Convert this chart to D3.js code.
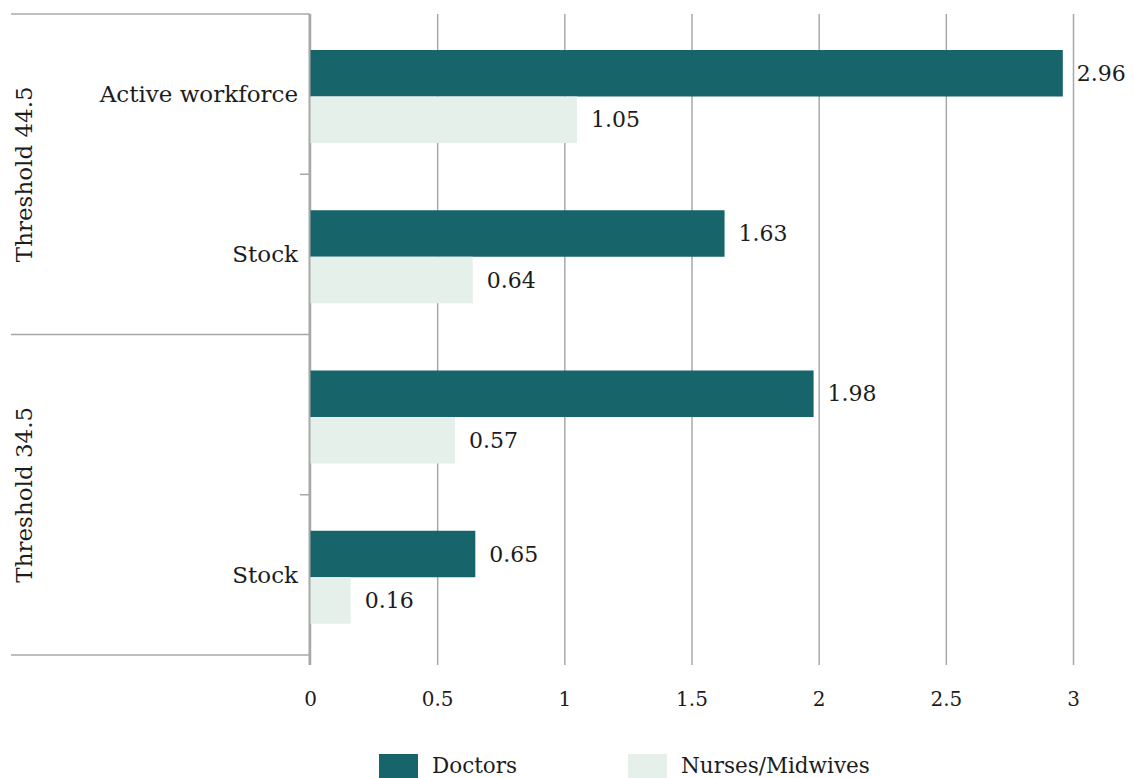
<!DOCTYPE html>
<html>
<head>
<meta charset="utf-8">
<script src="https://cdn.jsdelivr.net/npm/d3@7"></script>
<style>
  html, body { margin: 0; padding: 0; background: #fff; }
  svg { display: block; font-family: "DejaVu Serif", serif; }
</style>
</head>
<body>
<svg id="chart" width="1134" height="778"></svg>
<script>
// Workforce ratios by threshold and measure
const rowIds = ["t44-active", "t44-stock", "t34-active", "t34-stock"];
const rowLabels = ["Active workforce", "Stock", "", "Stock"];
const rowGroups = ["Threshold 44.5", "Threshold 44.5", "Threshold 34.5", "Threshold 34.5"];
const groupNames = ["Threshold 44.5", "Threshold 34.5"];
const seriesNames = ["Doctors", "Nurses/Midwives"];
const doctors = [2.96, 1.63, 1.98, 0.65];
const nurses = [1.05, 0.64, 0.57, 0.16];
const xTicks = [0, 0.5, 1, 1.5, 2, 2.5, 3];
const xTickLabels = ["0", "0.5", "1", "1.5", "2", "2.5", "3"];

const colors = { "Doctors": "#17646a", "Nurses/Midwives": "#e6f0eb" };
const gridColor = "#a8a8a8";
const textColor = "#1c1c1c";

const svg = d3.select("#chart");

const rows = rowIds.map((id, i) => ({
  id, label: rowLabels[i], group: rowGroups[i],
  values: [doctors[i], nurses[i]]
}));

const plotTop = 14, plotBottom = 655, plotLeft = 310, plotRight = 1073, outerLeft = 11;

const x = d3.scaleLinear().domain([0, 3]).range([plotLeft, plotRight]);
const y = d3.scaleBand().domain(rowIds).range([plotTop, plotBottom]);
// bars sit in the upper part of each row band
const ySeries = d3.scaleBand().domain(seriesNames).range([36, 129]);

// vertical grid lines + ticks below the axis
const xAxis = d3.axisBottom(x)
  .tickValues(xTicks)
  .tickFormat((d, i) => xTickLabels[i])
  .tickSize(plotBottom - plotTop + 10)
  .tickSizeOuter(0);

const gx = svg.append("g")
  .attr("transform", `translate(0,${plotTop})`)
  .call(xAxis);
gx.select(".domain").remove();
gx.selectAll(".tick line").attr("stroke", gridColor).attr("stroke-width", 1.5);
gx.selectAll(".tick text")
  .attr("fill", textColor)
  .attr("font-size", 20)
  .attr("font-family", "DejaVu Serif, serif")
  .attr("y", plotBottom - plotTop + 37);

// bars
const rowG = svg.append("g").selectAll("g")
  .data(rows)
  .join("g")
  .attr("transform", d => `translate(0,${y(d.id)})`);

rowG.selectAll("rect")
  .data(d => d.values.map((v, k) => ({ series: seriesNames[k], value: v })))
  .join("rect")
  .attr("x", x(0))
  .attr("y", d => ySeries(d.series))
  .attr("width", d => x(d.value) - x(0))
  .attr("height", ySeries.bandwidth())
  .attr("fill", d => colors[d.series]);

rowG.selectAll("text.value")
  .data(d => d.values.map((v, k) => ({ series: seriesNames[k], value: v })))
  .join("text")
  .attr("class", "value")
  .attr("x", d => x(d.value) + 14)
  .attr("y", d => ySeries(d.series) + ySeries.bandwidth() / 2)
  .attr("dy", "0.35em")
  .attr("fill", textColor)
  .attr("font-size", 22)
  .text(d => d3.format(".2f")(d.value));

// vertical axis line
svg.append("line")
  .attr("x1", plotLeft - 0.5).attr("x2", plotLeft - 0.5)
  .attr("y1", plotTop).attr("y2", plotBottom + 10)
  .attr("stroke", gridColor).attr("stroke-width", 2);

// row labels
rowG.append("text")
  .attr("x", plotLeft - 12)
  .attr("y", y.bandwidth() / 2)
  .attr("dy", "0.35em")
  .attr("text-anchor", "end")
  .attr("fill", textColor)
  .attr("font-size", 23)
  .text(d => d.label);

// group boundaries (full-width lines at top/bottom of each group, short ticks between rows)
const groupSpans = groupNames.map(g => {
  const ids = rows.filter(r => r.group === g).map(r => r.id);
  return { name: g, top: y(ids[0]), bottom: y(ids[ids.length - 1]) + y.bandwidth(), ids };
});

const boundaryYs = Array.from(new Set(groupSpans.flatMap(s => [s.top, s.bottom])));
svg.append("g").selectAll("line")
  .data(boundaryYs)
  .join("line")
  .attr("x1", outerLeft).attr("x2", plotLeft)
  .attr("y1", d => d).attr("y2", d => d)
  .attr("stroke", gridColor).attr("stroke-width", 1.5);

const innerYs = groupSpans.flatMap(s => s.ids.slice(1).map(id => y(id)));
svg.append("g").selectAll("line")
  .data(innerYs)
  .join("line")
  .attr("x1", plotLeft - 10).attr("x2", plotLeft)
  .attr("y1", d => d).attr("y2", d => d)
  .attr("stroke", gridColor).attr("stroke-width", 1.5);

// rotated group labels
svg.append("g").selectAll("text")
  .data(groupSpans)
  .join("text")
  .attr("transform", d => `translate(24,${(d.top + d.bottom) / 2}) rotate(-90)`)
  .attr("text-anchor", "middle")
  .attr("dy", "0.35em")
  .attr("fill", textColor)
  .attr("font-size", 23)
  .text(d => d.name);

// legend
const legendX = d3.scalePoint().domain(seriesNames).range([379, 628]);
const lg = svg.append("g").selectAll("g")
  .data(seriesNames)
  .join("g")
  .attr("transform", d => `translate(${legendX(d)},754)`);
lg.append("rect")
  .attr("width", 39).attr("height", 24)
  .attr("fill", d => colors[d]);
lg.append("text")
  .attr("x", 53).attr("y", 11)
  .attr("dy", "0.35em")
  .attr("fill", textColor)
  .attr("font-size", 21.5)
  .text(d => d);
</script>
</body>
</html>
